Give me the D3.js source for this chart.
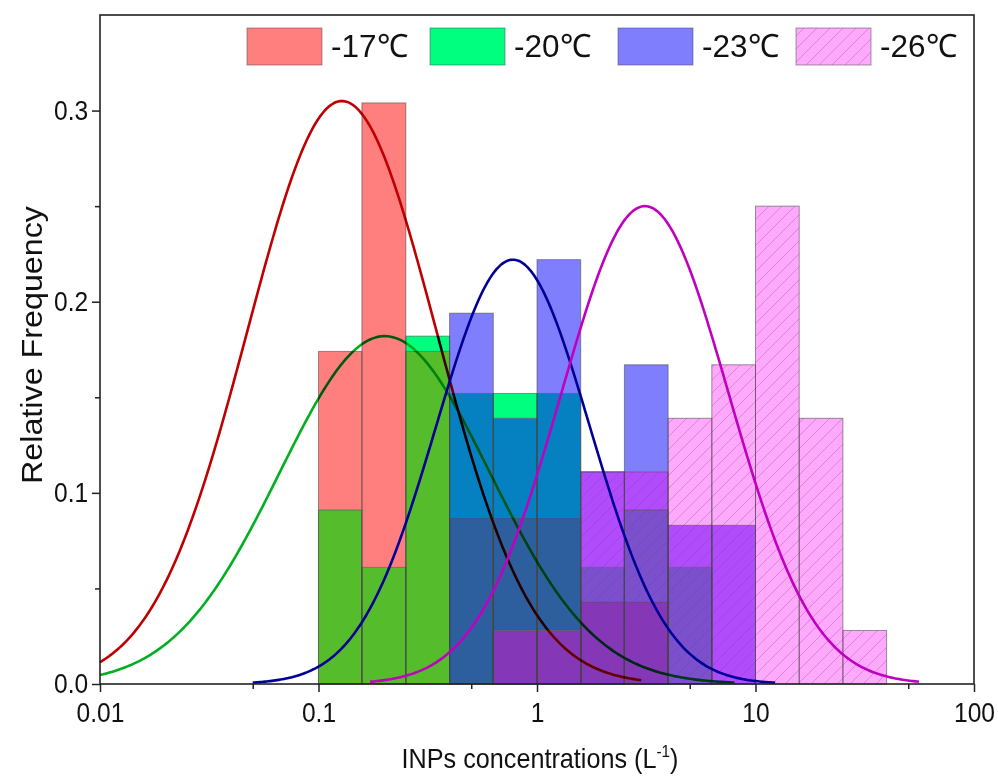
<!DOCTYPE html>
<html>
<head>
<meta charset="utf-8">
<script src="https://cdn.jsdelivr.net/npm/d3@7"></script>
<style>
  body { margin: 0; background: #fff; }
  text { font-family: "Liberation Sans", Arial, sans-serif; fill: #111; }
</style>
</head>
<body>
<div id="chart"></div>
<script>
// bin edges of the histogram (log spaced, 5 per decade)
const binEdges = [0.1, 0.158, 0.251, 0.398, 0.631, 1, 1.585, 2.512, 3.981, 6.31, 10, 15.85, 25.12, 39.81];

// relative frequency per bin for each temperature
const freq17 = [0.174, 0.304, 0.174, 0.087, 0.087, 0.087, 0.043, 0.043, 0, 0, 0, 0, 0];
const freq20 = [0.091, 0.061, 0.182, 0.152, 0.152, 0.152, 0.061, 0.091, 0.061, 0, 0, 0, 0];
const freq23 = [0, 0, 0, 0.194, 0.139, 0.222, 0.111, 0.167, 0.083, 0.083, 0, 0, 0];
const freq26 = [0, 0, 0, 0, 0.028, 0.028, 0.111, 0.111, 0.139, 0.167, 0.25, 0.139, 0.028];

const seriesNames = ["-17℃", "-20℃", "-23℃", "-26℃"];
const seriesKeys = ["R", "G", "B", "P"];

// lognormal fit parameters (centre, peak, sigma in log10 units, drawn range)
const fitCenters = [0.128, 0.201, 0.776, 3.12];
const fitPeaks = [0.305, 0.182, 0.222, 0.25];
const fitSigmas = [0.432, 0.482, 0.352, 0.384];
const fitStart = [0.01, 0.01, 0.05, 0.172];
const fitEnd = [3, 8, 12.3, 56];

// axis ticks
const xTicks = [0.01, 0.1, 1, 10, 100];
const xTickLabels = ["0.01", "0.1", "1", "10", "100"];
const xMinor = [0.05, 0.5, 5, 50];
const yTicks = [0, 0.1, 0.2, 0.3];
const yTickLabels = ["0.0", "0.1", "0.2", "0.3"];
const yMinor = [0.05, 0.15, 0.25];

// colours for each overlap combination
const comboColor = {
    R: "#ff7f7f", G: "#00ff7f", B: "#7f7ffe", P: "#ffa9fd",
    RG: "#55bd2b", GB: "#0580c0", RGB: "#2d5e9e",
    BP: "#b04cfc", GBP: "#7a50cc", RGBP: "#8438b8"
};
const curveColors = ["#c00000", "#00b020", "#000096", "#c000c0"];

const allFreq = [freq17, freq20, freq23, freq26];

const W = 998, H = 776;
const svg = d3.select("#chart").append("svg")
    .attr("width", W)
    .attr("height", H);

const x = d3.scaleLog().domain([0.01, 100]).range([100, 974]);
const y = d3.scaleLinear().domain([0, 0.35]).range([684, 15]);

// hatch pattern for -26 series
const defs = svg.append("defs");
const pat = defs.append("pattern")
    .attr("id", "hatch")
    .attr("patternUnits", "userSpaceOnUse")
    .attr("width", 13).attr("height", 13);
pat.append("path")
    .attr("d", "M-1,14 L14,-1 M-4,4 L4,-4 M9,17 L17,9")
    .attr("stroke", "rgba(150,40,150,0.3)")
    .attr("stroke-width", 1);

// build overlap segments bin by bin
const segments = [];
binEdges.slice(0, -1).forEach((lo, i) => {
    const hi = binEdges[i + 1];
    const vals = seriesKeys.map((k, s) => ({k, s, v: allFreq[s][i]}))
        .filter(d => d.v > 0)
        .sort((a, b) => b.v - a.v);
    vals.forEach((d, j) => {
        const bottom = j + 1 < vals.length ? vals[j + 1].v : 0;
        const cover = vals.slice(0, j + 1).map(e => e.s).sort();
        const key = cover.map(s => seriesKeys[s]).join("");
        segments.push({lo, hi, top: d.v, bottom, key});
    });
});

svg.append("g").selectAll("rect")
    .data(segments.filter(d => d.top > d.bottom))
    .enter().append("rect")
    .attr("x", d => x(d.lo))
    .attr("y", d => y(d.top))
    .attr("width", d => x(d.hi) - x(d.lo))
    .attr("height", d => y(d.bottom) - y(d.top))
    .attr("fill", d => comboColor[d.key] || "#888");

// hatch over the -26 bars
svg.append("g").selectAll("rect")
    .data(freq26.map((v, i) => ({v, i})).filter(d => d.v > 0))
    .enter().append("rect")
    .attr("x", d => x(binEdges[d.i]))
    .attr("y", d => y(d.v))
    .attr("width", d => x(binEdges[d.i + 1]) - x(binEdges[d.i]))
    .attr("height", d => y(0) - y(d.v))
    .attr("fill", "url(#hatch)");

// bar outlines for every series
allFreq.forEach(freq => {
    svg.append("g").selectAll("rect")
        .data(freq.map((v, i) => ({v, i})).filter(d => d.v > 0))
        .enter().append("rect")
        .attr("x", d => x(binEdges[d.i]))
        .attr("y", d => y(d.v))
        .attr("width", d => x(binEdges[d.i + 1]) - x(binEdges[d.i]))
        .attr("height", d => y(0) - y(d.v))
        .attr("fill", "none")
        .attr("stroke", "rgba(70,70,70,0.55)")
        .attr("stroke-width", 1);
});

// fitted curves (the two left ones sit "under" the bars, so multiply them)
const line = d3.line().x(d => x(d[0])).y(d => y(d[1]));
fitCenters.forEach((c, s) => {
    const a = Math.log10(fitStart[s]), b = Math.log10(fitEnd[s]);
    const pts = d3.range(0, 301).map(j => {
        const lx = a + (b - a) * j / 300;
        const dz = (lx - Math.log10(c)) / fitSigmas[s];
        return [Math.pow(10, lx), fitPeaks[s] * Math.exp(-0.5 * dz * dz)];
    });
    svg.append("path")
        .attr("d", line(pts))
        .attr("fill", "none")
        .attr("stroke", curveColors[s])
        .attr("stroke-width", 2.6)
        .style("mix-blend-mode", s < 2 ? "multiply" : "normal");
});

// axes
svg.append("g")
    .attr("transform", "translate(0,684)")
    .call(d3.axisBottom(x).tickValues(xTicks).tickFormat((d, i) => xTickLabels[i])
        .tickSize(8).tickSizeOuter(0).tickPadding(11));
svg.append("g")
    .attr("transform", "translate(0,684)")
    .call(d3.axisBottom(x).tickValues(xMinor).tickFormat("").tickSize(5).tickSizeOuter(0));

svg.append("g")
    .attr("transform", "translate(100,0)")
    .call(d3.axisLeft(y).tickValues(yTicks).tickFormat((d, i) => yTickLabels[i])
        .tickSize(8).tickSizeOuter(0).tickPadding(5));
svg.append("g")
    .attr("transform", "translate(100,0)")
    .call(d3.axisLeft(y).tickValues(yMinor).tickFormat("").tickSize(5).tickSizeOuter(0));

svg.selectAll(".domain").remove();
svg.selectAll(".tick line").attr("stroke", "#222").attr("stroke-width", 1.5);
svg.selectAll(".tick text")
    .style("font-size", "27px")
    .attr("fill", "#111")
    .attr("transform", "scale(0.91,1)");

// frame
svg.append("rect")
    .attr("x", 100).attr("y", 15)
    .attr("width", 874).attr("height", 669)
    .attr("fill", "none")
    .attr("stroke", "#222")
    .attr("stroke-width", 1.6);

// axis titles
svg.append("text")
    .attr("transform", "translate(42,345) rotate(-90)")
    .attr("text-anchor", "middle")
    .style("font-size", "30px")
    .attr("textLength", 278)
    .attr("lengthAdjust", "spacingAndGlyphs")
    .text("Relative Frequency");

const xt = svg.append("text")
    .attr("transform", "translate(540,768) scale(0.9,1)")
    .attr("text-anchor", "middle")
    .style("font-size", "28px");
xt.append("tspan").text("INPs concentrations (L");
xt.append("tspan").attr("dy", -11).style("font-size", "17px").text("-1");
xt.append("tspan").attr("dy", 11).text(")");

// legend
const legX = [247, 430, 618, 796];
const legendFills = [comboColor.R, comboColor.G, comboColor.B, comboColor.P];
const leg = svg.append("g").selectAll("g")
    .data(seriesNames)
    .enter().append("g");
leg.append("rect")
    .attr("x", (d, i) => legX[i]).attr("y", 28)
    .attr("width", 75).attr("height", 37)
    .attr("fill", (d, i) => legendFills[i])
    .attr("stroke", "rgba(70,70,70,0.5)");
leg.filter((d, i) => i === 3).append("rect")
    .attr("x", legX[3]).attr("y", 28)
    .attr("width", 75).attr("height", 37)
    .attr("fill", "url(#hatch)");
leg.append("text")
    .attr("x", (d, i) => legX[i] + 84).attr("y", 57)
    .style("font-size", "32px")
    .attr("textLength", 77)
    .attr("lengthAdjust", "spacingAndGlyphs")
    .text(d => d);
</script>
</body>
</html>
